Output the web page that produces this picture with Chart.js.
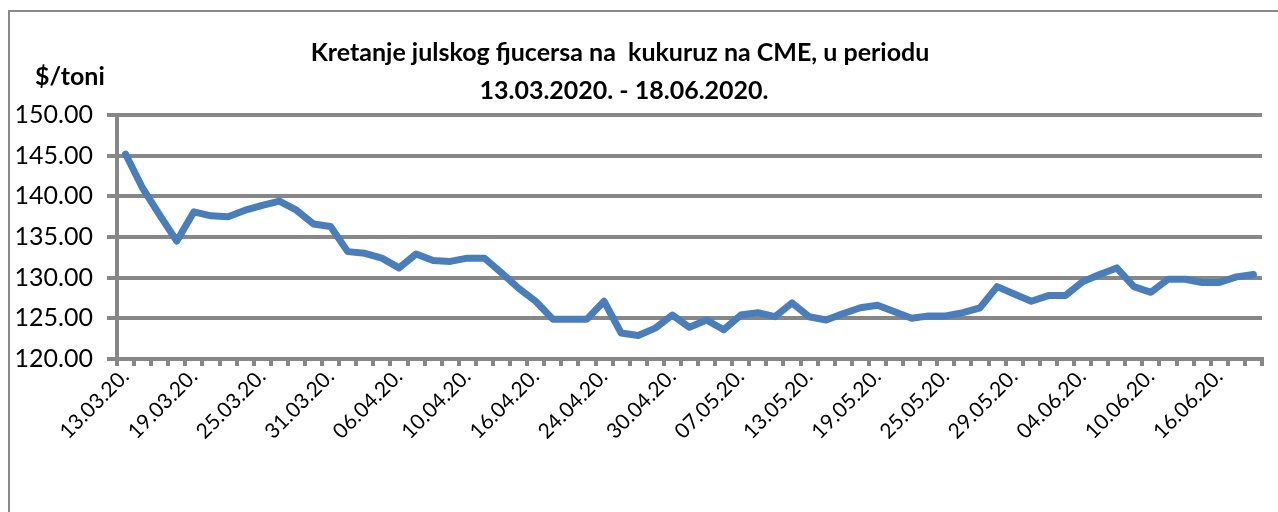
<!DOCTYPE html>
<html lang="sr">
<head>
    <meta charset="UTF-8">
    <title>Kretanje julskog fjucersa na kukuruz na CME</title>
    <script src="https://cdn.jsdelivr.net/npm/chart.js@4"></script>
    <style>
        body {
            margin: 0;
            overflow: hidden;
            background: #fff;
            font-family: Lato, sans-serif;
        }
        #wrap {
            position: relative;
            width: 1278px;
            height: 512px;
        }
        #frame {
            position: absolute;
            left: 8px;
            top: 10px;
            width: 1320px;
            height: 600px;
            border: 2px solid #8a8a8a;
        }
        canvas {
            position: absolute;
            left: 0;
            top: 0;
        }
        .title {
            position: absolute;
            left: 0;
            width: 1240px;
            text-align: center;
            font-weight: bold;
            font-size: 25px;
            white-space: pre;
            color: #000;
        }
        #unit {
            position: absolute;
            left: 35px;
            top: 60px;
            font-weight: bold;
            font-size: 25px;
        }
    </style>
</head>
<body>
<div id="wrap">
    <div id="frame"></div>
    <canvas id="cornChart" width="1278" height="512"></canvas>
    <div class="title" style="top:36px">Kretanje julskog fjucersa na  kukuruz na CME, u periodu</div>
    <div class="title" style="top:74px; left:4px">13.03.2020. - 18.06.2020.</div>
    <div id="unit">$/toni</div>
</div>

<script>
    // Dates (trading days), every 4th is shown on the axis
    const dates = [
        '13.03.20.', '16.03.20.', '17.03.20.', '18.03.20.', '19.03.20.', '20.03.20.', '23.03.20.', '24.03.20.',
        '25.03.20.', '26.03.20.', '27.03.20.', '30.03.20.', '31.03.20.', '01.04.20.', '02.04.20.', '03.04.20.',
        '06.04.20.', '07.04.20.', '08.04.20.', '09.04.20.', '10.04.20.', '13.04.20.', '14.04.20.', '15.04.20.',
        '16.04.20.', '21.04.20.', '22.04.20.', '23.04.20.', '24.04.20.', '27.04.20.', '28.04.20.', '29.04.20.',
        '30.04.20.', '04.05.20.', '05.05.20.', '06.05.20.', '07.05.20.', '08.05.20.', '11.05.20.', '12.05.20.',
        '13.05.20.', '14.05.20.', '15.05.20.', '18.05.20.', '19.05.20.', '20.05.20.', '21.05.20.', '22.05.20.',
        '25.05.20.', '26.05.20.', '27.05.20.', '28.05.20.', '29.05.20.', '01.06.20.', '02.06.20.', '03.06.20.',
        '04.06.20.', '05.06.20.', '08.06.20.', '09.06.20.', '10.06.20.', '11.06.20.', '12.06.20.', '15.06.20.',
        '16.06.20.', '17.06.20.', '18.06.20.'
    ];

    // July corn futures, $/ton
    const prices = [
        145.2, 141.0, 137.7, 134.5, 138.1, 137.6, 137.5, 138.3,
        138.9, 139.4, 138.3, 136.6, 136.3, 133.2, 133.0, 132.4,
        131.2, 132.9, 132.1, 132.0, 132.4, 132.4, 130.6, 128.7,
        127.1, 124.9, 124.9, 124.9, 127.1, 123.2, 122.9, 123.8,
        125.4, 123.9, 124.8, 123.6, 125.4, 125.7, 125.2, 126.9,
        125.2, 124.8, 125.6, 126.3, 126.6, 125.8, 125.0, 125.3,
        125.3, 125.7, 126.3, 128.9, 128.0, 127.1, 127.8, 127.8,
        129.5, 130.4, 131.2, 128.9, 128.2, 129.8, 129.8, 129.4,
        129.4, 130.1, 130.4
    ];

    const yTicks = [120, 125, 130, 135, 140, 145, 150];
    const labelEvery = 4;

    const gridGray = '#878787';

    new Chart(document.getElementById('cornChart'), {
        type: 'line',
        data: {
            labels: dates,
            datasets: [{
                data: prices,
                borderColor: '#4a7ebb',
                borderWidth: 7,
                pointRadius: 0,
                tension: 0,
                borderJoinStyle: 'round',
                borderCapStyle: 'round'
            }]
        },
        options: {
            responsive: false,
            animation: false,
            layout: {
                padding: { top: 115, right: 16, left: 0, bottom: 0 }
            },
            plugins: {
                legend: { display: false },
                tooltip: { enabled: false }
            },
            scales: {
                x: {
                    offset: true,
                    afterFit: function(scale) { scale.height = 153; },
                    border: { color: gridGray, width: 4 },
                    grid: {
                        offset: true,
                        drawOnChartArea: false,
                        color: gridGray,
                        lineWidth: 4,
                        tickLength: 7
                    },
                    ticks: {
                        autoSkip: false,
                        minRotation: 45,
                        maxRotation: 45,
                        padding: -2,
                        color: '#000',
                        font: { family: 'Lato', size: 21 },
                        callback: function(value, index) {
                            return index % labelEvery === 0 ? dates[index] : '';
                        }
                    }
                },
                y: {
                    min: yTicks[0],
                    max: yTicks[yTicks.length - 1],
                    afterFit: function(scale) { scale.width = 117; },
                    border: { color: gridGray, width: 4 },
                    grid: {
                        color: gridGray,
                        lineWidth: 4,
                        tickLength: 10
                    },
                    ticks: {
                        stepSize: yTicks[1] - yTicks[0],
                        padding: 14,
                        color: '#000',
                        font: { family: 'Lato', size: 25 },
                        callback: function(value) {
                            return value.toFixed(2);
                        }
                    }
                }
            }
        }
    });
</script>
</body>
</html>
